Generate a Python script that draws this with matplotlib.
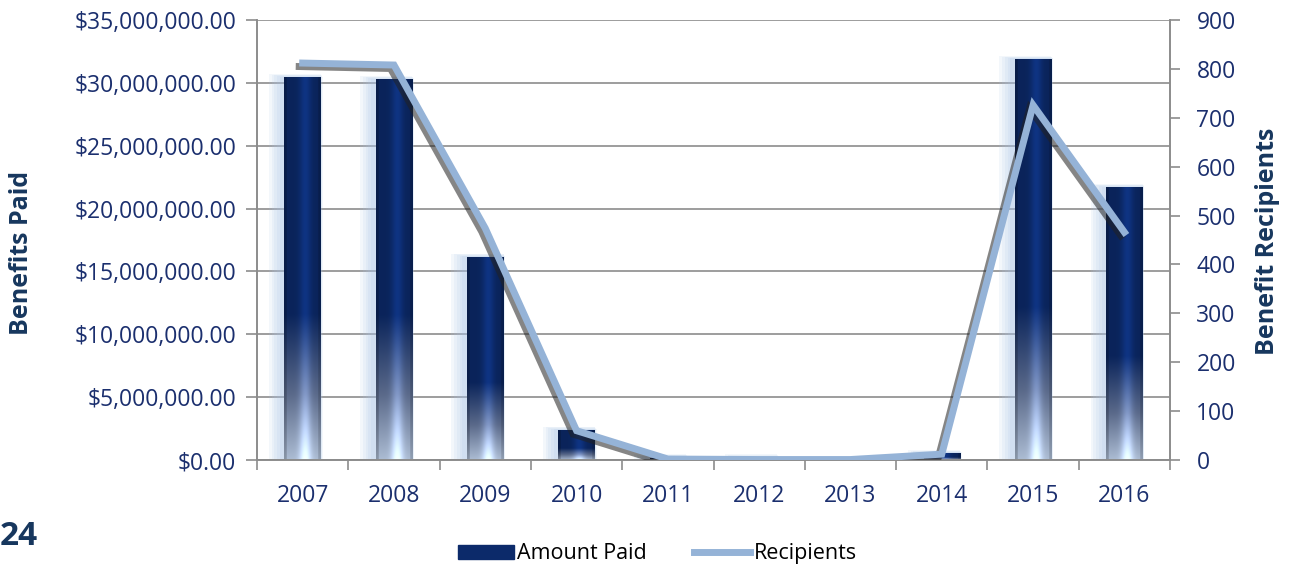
import matplotlib.pyplot as plt
import matplotlib.patheffects as pe
from matplotlib.patches import Rectangle, Patch
from matplotlib.lines import Line2D
from matplotlib.colors import to_rgb
from matplotlib.ticker import FuncFormatter, MultipleLocator
import numpy as np

years = ["2007", "2008", "2009", "2010", "2011", "2012", "2013", "2014", "2015", "2016"]
amount_paid = [30450000, 30300000, 16150000, 2400000, 200000, 200000, 30000, 550000, 31900000, 21700000]
recipients = [812, 808, 474, 60, 2, 1, 1, 12, 726, 466]

navy = "#1B2F6E"
label_navy = "#17375E"
grid_gray = "#8C8C8C"

plt.rcParams['font.family'] = ['Open Sans', 'DejaVu Sans']

fig = plt.figure(figsize=(12.89, 5.68), dpi=100)
ax = fig.add_axes([0.1994, 0.1901, 0.7083, 0.7746])
ax2 = ax.twinx()

x = np.arange(len(years))
bw = 0.4

# gradient image for the bars: dark navy on top, fading to pale blue at the bottom
def bar_image(n=200, m=40):
    t = np.linspace(0, 1, n)          # 0 = top, 1 = bottom
    dark = np.array(to_rgb("#0C2A6A"))
    mid = np.array(to_rgb("#6A7CA2"))
    light = np.array(to_rgb("#C9DCF7"))
    col = np.zeros((n, 3))
    for i, tt in enumerate(t):
        if tt < 0.62:
            col[i] = dark
        elif tt < 0.83:
            f = (tt - 0.62) / 0.21
            col[i] = dark * (1 - f) + mid * f
        else:
            f = (tt - 0.83) / 0.17
            col[i] = mid * (1 - f) + light * f
    s = np.linspace(0, 1, m)
    # bevel: brighter stripe in centre-right, darker edges
    shade = 0.85 + 0.38 * np.exp(-((s - 0.58) / 0.16) ** 2)
    shade[:3] *= 0.8
    shade[-3:] *= 0.85
    img = col[:, None, :] * shade[None, :, None]
    return np.clip(img, 0, 1)

img = bar_image()
for xi, v in zip(x, amount_paid):
    if v <= 0:
        continue
    # soft glow, mostly on the left side
    for k in range(5):
        g = Rectangle((xi - bw / 2 - 0.17 + k * 0.03, 0), bw + 0.17 - k * 0.025,
                      v + 250000 - k * 50000,
                      facecolor="#A9C2E6", edgecolor="none", alpha=0.13, zorder=1)
        ax.add_patch(g)
    r = Rectangle((xi - bw / 2, 0), bw, v, facecolor="none", edgecolor="none", zorder=2)
    ax.add_patch(r)
    im = ax.imshow(img, extent=(xi - bw / 2, xi + bw / 2, 0, v), aspect="auto",
                   interpolation="bilinear", zorder=2)
    im.set_clip_path(r)

ax.set_xlim(-0.5, len(years) - 0.5)
ax.set_ylim(0, 35000000)
ax.yaxis.set_major_locator(MultipleLocator(5000000))
ax.yaxis.set_major_formatter(FuncFormatter(lambda v, p: "${:,.2f}".format(v)))
ax.grid(axis="y", color=grid_gray, lw=1.2, zorder=0)
ax.set_axisbelow(True)

ax.set_xticks(x)
ax.set_xticklabels(years)
ax.set_xticks(np.arange(-0.5, len(years)), minor=True)
ax.tick_params(axis="x", which="major", length=0, pad=17, labelsize=16.5, labelcolor=navy)
ax.tick_params(axis="x", which="minor", length=7, color=grid_gray, width=1.2)
ax.tick_params(axis="y", length=8, color=grid_gray, width=1.2, labelsize=16.5, labelcolor=navy, pad=7)

ax2.plot(x, recipients, color="#95B3D7", lw=5, solid_joinstyle="miter", zorder=5,
         path_effects=[pe.SimpleLineShadow(offset=(-2.5, -2.5), shadow_color="#222222", alpha=0.55),
                       pe.Normal()])
ax2.set_ylim(0, 900)
ax2.yaxis.set_major_locator(MultipleLocator(100))
ax2.tick_params(axis="y", length=7, color=grid_gray, width=1.2, labelsize=16.5, labelcolor=navy, pad=12)

for a in (ax, ax2):
    a.spines["top"].set_visible(False)
    for s in ("left", "right", "bottom"):
        a.spines[s].set_color(grid_gray)
        a.spines[s].set_linewidth(1.2)

fig.text(0.0165, 0.555, "Benefits Paid", rotation=90, fontsize=18, fontweight="bold",
         color=label_navy, ha="center", va="center")
fig.text(0.9837, 0.575, "Benefit Recipients", rotation=90, fontsize=18, fontweight="bold",
         color=label_navy, ha="center", va="center")

handles = [Patch(facecolor="#0C2A6A", edgecolor="#0C2A6A"),
           Line2D([0], [0], color="#95B3D7", lw=5)]
fig.legend(handles, ["Amount Paid", "Recipients"], loc="center", bbox_to_anchor=(0.51, 0.025),
           ncol=2, frameon=False, fontsize=15.5, handlelength=2.6, handleheight=0.6,
           handletextpad=0.15, columnspacing=2.2, labelcolor="black")

fig.text(0.0, 0.056, "24", fontsize=24, fontweight="bold", color=label_navy, ha="left", va="center")

fig.savefig("out.png", dpi=100)
